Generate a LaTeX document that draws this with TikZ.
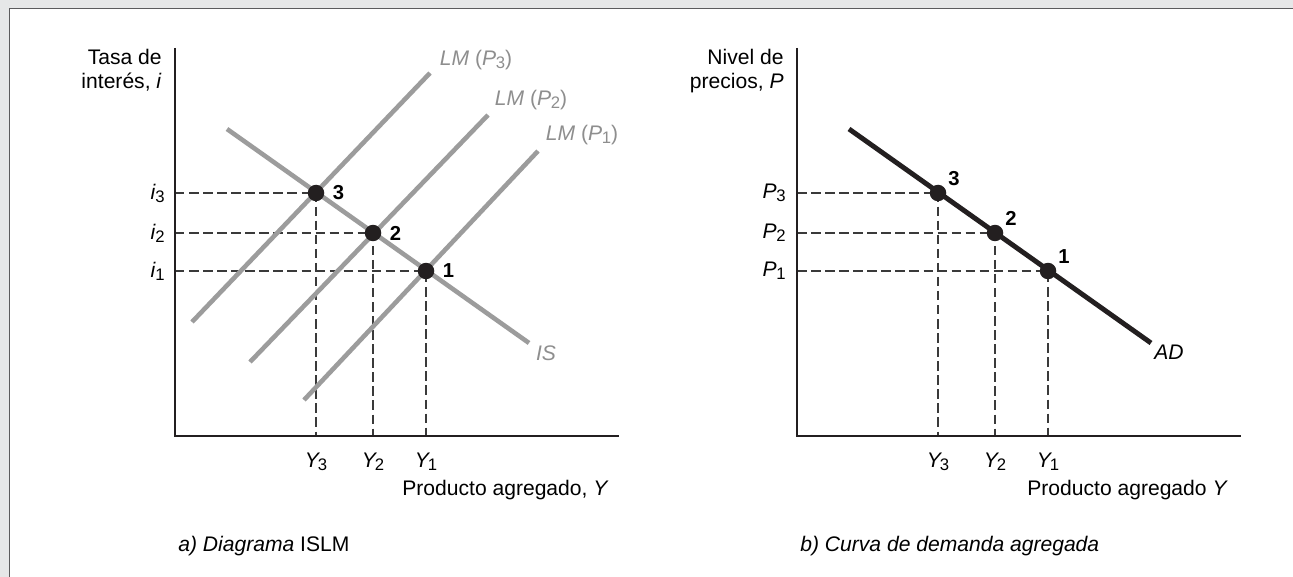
\documentclass[tikz,border=0pt]{standalone}
\usepackage{fontspec}
\setmainfont{Liberation Sans}
\usetikzlibrary{positioning}
\definecolor{ink}{HTML}{231F20}
\definecolor{curve}{HTML}{9C9C9C}
\definecolor{curvetxt}{HTML}{8E8E8E}
\definecolor{dashc}{HTML}{3A3A3A}
\definecolor{frame}{HTML}{E6E7E8}
\definecolor{rule}{HTML}{5B5B5D}
\newcommand{\lowsub}[2][-0.02em]{\kern#1\raisebox{-0.14em}{\fontsize{9.5}{10}\selectfont #2}}

\begin{document}
\begin{tikzpicture}[x=0.02cm,y=-0.02cm,
 every node/.style={inner sep=0pt,font=\fontsize{12}{14.2}\selectfont},
 ax/.style={draw=ink,line width=0.8pt},
 gl/.style={draw=curve,line width=2.6pt},
 kl/.style={draw=ink,line width=2.8pt},
 dl/.style={draw=dashc,line width=0.7pt,dash pattern=on 5.4pt off 2.6pt},
 dot/.style={circle,fill=ink,minimum size=0.33cm},
 num/.style={font=\fontsize{11.5}{13}\selectfont\bfseries},
 gt/.style={text=curvetxt}
]
\useasboundingbox (0,0) rectangle (1293,577);
\fill[frame] (0,0) rectangle (1293,577);
\fill[white] (10,9) rectangle (1293,577);
\draw[rule,line width=0.8pt] (9.5,577) -- (9.5,8.5) -- (1293,8.5);

% a) ISLM
\coordinate (O) at (175,436);
\coordinate (yt) at (175,48);
\coordinate (xe) at (619,436);
\coordinate (e3) at (316,193);
\coordinate (e2) at (373,233);
\coordinate (e1) at (426,271);
\foreach \n in {1,2,3} {
 \coordinate (a\n) at (O |- e\n);
 \coordinate (b\n) at (e\n |- O);
 \draw[dl] (a\n) -- (e\n) -- (b\n);
}
\draw[ax] (yt) -- (O) -- (xe);
\coordinate (is0) at (227,129); \coordinate (is1) at (529,343);
\coordinate (lm3a) at (192,322); \coordinate (lm3b) at (430,73);
\coordinate (lm2a) at (250,362); \coordinate (lm2b) at (488,115);
\coordinate (lm1a) at (304,400); \coordinate (lm1b) at (538,151);
\draw[gl] (lm3a) -- (lm3b);
\draw[gl] (lm2a) -- (lm2b);
\draw[gl] (lm1a) -- (lm1b);
\draw[gl] (is0) -- (is1);
\foreach \n in {1,2,3} {
 \node[dot] (p\n) at (e\n) {};
 \node[num,right=0.16cm of p\n] (n\n) {\n};
 \node[left=0.2cm of a\n] (i\n) {\textit{i}\lowsub{\n}};
 \node[below=0.34cm of b\n] (y\n) {\textit{Y}\lowsub[-0.1em]{\n}};
}
\node[gt] (lm3) at (476,60) {\textit{LM} (\textit{P}\lowsub{3})};
\node[gt] (lm2) at (531,100) {\textit{LM} (\textit{P}\lowsub{2})};
\node[gt] (lm1) at (582,135) {\textit{LM} (\textit{P}\lowsub{1})};
\node[gt] (is) at (546,353) {\textit{IS}};
\node[align=right,anchor=base east] (ylab) at (162,89) {Tasa de\\inter\'es, \textit{i}};
\node[anchor=base west] (xlab) at (402,495) {Producto agregado, \textit{Y}};
\node[anchor=base west] (capa) at (178,551) {\textit{a) Diagrama} ISLM};

% b) AD
\coordinate (Q) at (797,436);
\coordinate (qt) at (797,48);
\coordinate (qe) at (1241,436);
\coordinate (f3) at (938,193);
\coordinate (f2) at (995,233);
\coordinate (f1) at (1048,271);
\foreach \n in {1,2,3} {
 \coordinate (c\n) at (Q |- f\n);
 \coordinate (d\n) at (f\n |- Q);
 \draw[dl] (c\n) -- (f\n) -- (d\n);
}
\draw[ax] (qt) -- (Q) -- (qe);
\coordinate (ad0) at (849,129); \coordinate (ad1) at (1151,343);
\draw[kl] (ad0) -- (ad1);
\foreach \n in {1,2,3} {
 \node[dot] (r\n) at (f\n) {};
 \node[num,above right=0.02cm and 0.08cm of r\n] (m\n) {\n};
 \node[left=0.22cm of c\n] (pp\n) {\textit{P}\lowsub{\n}};
 \node[below=0.34cm of d\n] (yy\n) {\textit{Y}\lowsub[-0.1em]{\n}};
}
\node (ad) at (1169,352) {\textit{AD}};
\node[align=right,anchor=base east] (plab) at (784,89) {Nivel de\\precios, \textit{P}};
\node[anchor=base west] (qlab) at (1027,495) {Producto agregado \textit{Y}};
\node[anchor=base west] (capb) at (800,551) {\textit{b) Curva de demanda agregada}};
\end{tikzpicture}
\end{document}
